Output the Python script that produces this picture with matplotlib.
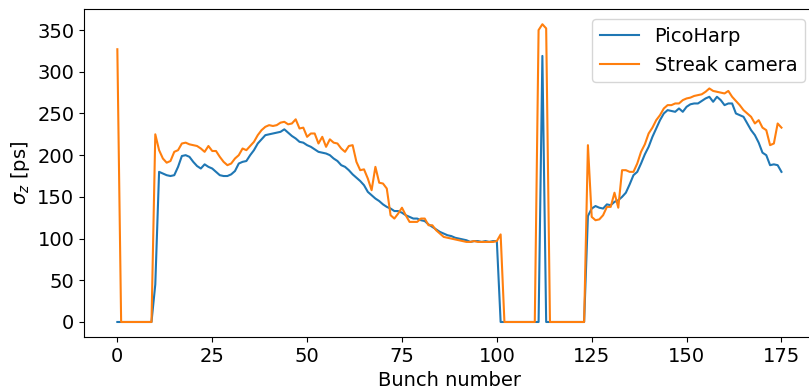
import numpy as np
import matplotlib
matplotlib.use("Agg")
import matplotlib.pyplot as plt

# bunch length per bunch
picoharp = [0] * 10 + [
    45, 180, 178, 176, 175, 176, 186, 199, 200, 198,
    192, 187, 184, 189, 186, 184, 180, 176, 175, 175,
    177, 181, 190, 192, 193, 200, 206, 214, 219, 224,
    225, 226, 227, 228, 231, 227, 223, 220, 216, 215,
    212, 210, 207, 204, 203, 202, 200, 196, 193, 188,
    186, 182, 177, 173, 169, 164, 156, 152, 148, 145,
    141, 138, 136, 133, 133, 131, 128, 126, 124, 124,
    122, 121, 117, 114, 111, 108, 106, 104, 103, 101,
    100, 99, 98, 96, 97, 97, 96, 97, 96, 97,
    97] + [0] * 11 + [319] + [0] * 11 + [
    127, 136, 139, 137, 136, 141, 140, 144, 146, 150,
    155, 165, 176, 180, 190, 201, 210, 222, 232, 242,
    250, 254, 253, 252, 256, 252, 258, 261, 262, 262,
    265, 268, 270, 264, 270, 266, 260, 262, 262, 250,
    248, 246, 238, 230, 224, 215, 203, 200, 188, 189,
    188, 180]

streak = [327] + [0] * 9 + [
    225, 206, 196, 191, 193, 204, 206, 214, 215, 213,
    212, 211, 208, 204, 211, 205, 205, 198, 192, 188,
    190, 196, 200, 208, 206, 211, 216, 224, 230, 234,
    236, 235, 236, 239, 240, 237, 238, 243, 232, 233,
    222, 226, 226, 214, 222, 210, 219, 215, 214, 208,
    204, 211, 212, 192, 182, 183, 172, 158, 186, 167,
    166, 160, 128, 124, 130, 137, 128, 120, 120, 120,
    124, 124, 116, 116, 110, 106, 102, 101, 100, 99,
    98, 97, 96, 96, 97, 96, 96, 96, 96, 96,
    97, 105] + [0] * 9 + [350, 357, 352] + [0] * 10 + [
    212, 126, 122, 123, 128, 138, 138, 155, 137, 182,
    182, 180, 180, 190, 204, 213, 226, 233, 242, 248,
    256, 260, 260, 262, 262, 266, 268, 269, 271, 272,
    273, 276, 280, 277, 276, 275, 274, 277, 270, 265,
    260, 254, 250, 246, 238, 242, 233, 230, 212, 214,
    238, 233]

bunch = np.arange(len(picoharp))
bunch_s = np.arange(len(streak))

fig = plt.figure(figsize=(8.09, 3.89), dpi=100)
ax = fig.add_axes([0.104, 0.134, 0.903, 0.842])

ax.plot(bunch, picoharp, label="PicoHarp")
ax.plot(bunch_s, streak, label="Streak camera")

ax.set_xlabel("Bunch number", fontsize=14)
ax.set_ylabel(r"$\sigma_z$ [ps]", fontsize=14)
ax.tick_params(labelsize=14)
ax.set_xticks([0, 25, 50, 75, 100, 125, 150, 175])
ax.legend(loc="upper right", fontsize=14)

fig.savefig("out.png", dpi=100)
